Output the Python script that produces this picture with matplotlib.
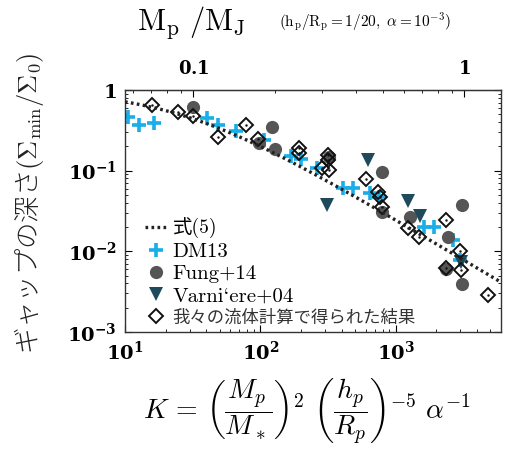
import numpy as np
import matplotlib
matplotlib.use('Agg')
import matplotlib.pyplot as plt

plt.rcParams['mathtext.fontset'] = 'cm'

# K values and gap depth
dm13_k = [10.5, 12.7, 16.3, 40.7, 49.1, 66.6, 107, 169, 200, 262, 408, 483, 644, 750,
          1634, 1935, 2670, 3006]
dm13_s = [0.463, 0.368, 0.390, 0.450, 0.368, 0.310, 0.240, 0.152, 0.140, 0.108, 0.061,
          0.061, 0.053, 0.047, 0.020, 0.020, 0.0138, 0.0078]

fung_k = [31.6, 122, 98, 129, 321, 788, 788, 1268, 3110, 2455, 2370, 3110]
fung_s = [0.62, 0.348, 0.220, 0.186, 0.148, 0.096, 0.0308, 0.0267, 0.0376, 0.0151,
          0.0061, 0.0039]

varn_k = [311, 622, 1225, 1527, 3053]
varn_s = [0.0376, 0.136, 0.0421, 0.0275, 0.0074]

ours_k = [15.8, 24.5, 31.6, 49.1, 78.9, 96.6, 194, 194, 316, 316, 286, 322, 601, 737,
          763, 788, 1225, 1500, 2372, 3006, 2372, 3053, 4831]
ours_s = [0.652, 0.534, 0.476, 0.262, 0.368, 0.247, 0.191, 0.166, 0.157, 0.136, 0.108,
          0.102, 0.079, 0.0545, 0.047, 0.0355, 0.0195, 0.0151, 0.0245, 0.0101, 0.0062,
          0.0059, 0.0029]

labels = ['式(5)', 'DM13', 'Fung+14', 'Varni`ere+04', '我々の流体計算で得られた結果']

# eq.(5)
k_line = np.logspace(1, np.log10(6000), 300)
s_line = 1.0 / (1.0 + 0.04 * k_line)

fig = plt.figure(figsize=(5.07, 4.51), dpi=100)
ax = fig.add_axes([0.2465, 0.2639, 0.7415, 0.5365])

line, = ax.plot(k_line, s_line, color='#222222', lw=2.4, ls=(0, (0.8, 1.0)), zorder=5)
p1, = ax.plot(dm13_k, dm13_s, '+', color='#19aee8', ms=10, mew=2.6, zorder=2)
p2, = ax.plot(fung_k, fung_s, 'o', color='#555555', ms=9.5, mew=0, zorder=3)
p3, = ax.plot(varn_k, varn_s, 'v', color='#1f4a5c', ms=9.5, mew=0, zorder=3)
p4, = ax.plot(ours_k, ours_s, 'D', mfc='none', mec='#111111', ms=7.5, mew=1.4, zorder=4)
ax.plot(ours_k, ours_s, '.', color='#111111', ms=1.5, zorder=4)

ax.set_xscale('log')
ax.set_yscale('log')
ax.set_xlim(10, 6000)
ax.set_ylim(1e-3, 1)

ax.set_xticks([10, 100, 1000])
ax.set_xticklabels([r'$\mathbf{10^{1}}$', r'$\mathbf{10^{2}}$', r'$\mathbf{10^{3}}$'],
                   fontsize=14)
ax.set_yticks([1e-3, 1e-2, 1e-1, 1])
ax.set_yticklabels([r'$\mathbf{10^{-3}}$', r'$\mathbf{10^{-2}}$', r'$\mathbf{10^{-1}}$',
                    r'$\mathbf{1}$'], fontsize=14)
for t in ax.get_xticklabels() + ax.get_yticklabels():
    t.set_math_fontfamily('dejavuserif')
ax.tick_params(which='both', direction='in', top=False, right=True)
ax.tick_params(which='major', length=5, pad=6)
ax.tick_params(which='minor', length=2.5)
for sp in ax.spines.values():
    sp.set_color('#333333')
    sp.set_linewidth(1.0)

# top axis: planet mass in Jupiter masses
def k_to_m(k):
    return np.sqrt(np.maximum(k, 1e-12) / 3200.0)

def m_to_k(m):
    return 3200.0 * np.asarray(m) ** 2

secax = ax.secondary_xaxis('top', functions=(k_to_m, m_to_k))
secax.set_xticks([0.1, 1])
secax.set_xticklabels([r'$\mathbf{0.1}$', r'$\mathbf{1}$'], fontsize=13)
for t in secax.get_xticklabels():
    t.set_math_fontfamily('dejavuserif')
secax.tick_params(which='both', direction='in')
secax.tick_params(which='major', length=5, pad=9)
secax.tick_params(which='minor', length=2.5)
secax.spines['top'].set_color('#333333')

fig.text(0.378, 0.948, r'$\mathrm{M_p\ /M_J}$', fontsize=22, ha='center', va='center')
fig.text(0.72, 0.952, r'$(\mathrm{h_p/R_p{=}1/20,}\ \alpha{=}\mathbf{10^{-3}})$',
         fontsize=11, ha='center', va='center')

fig.text(0.605, 0.088,
         r'$K\,=\,\left(\dfrac{M_p}{M_*}\right)^2\ \left(\dfrac{h_p}{R_p}\right)^{-5}\ \alpha^{-1}$',
         fontsize=20, ha='center', va='center')

fig.text(0.058, 0.55, r'ギャップの深さ$(\Sigma_{\rm min}/\Sigma_0)$', rotation=90,
         fontsize=19, ha='center', va='center', family=['Noto Sans CJK JP'],
         fontweight='light', color='#222222')

leg = ax.legend([line, p1, p2, p3, p4], labels, loc='lower left', frameon=False,
                prop={'family': ['cmr10', 'Noto Sans CJK JP'], 'size': 15},
                handlelength=1.1, handletextpad=0.25, labelspacing=0.16,
                borderaxespad=0.0, bbox_to_anchor=(0.03, -0.01))
leg.get_texts()[0].set_fontsize(14)
leg.get_texts()[4].set_fontsize(12.5)
leg.get_texts()[4].set_color('#333333')

fig.savefig('out.png', dpi=100)
